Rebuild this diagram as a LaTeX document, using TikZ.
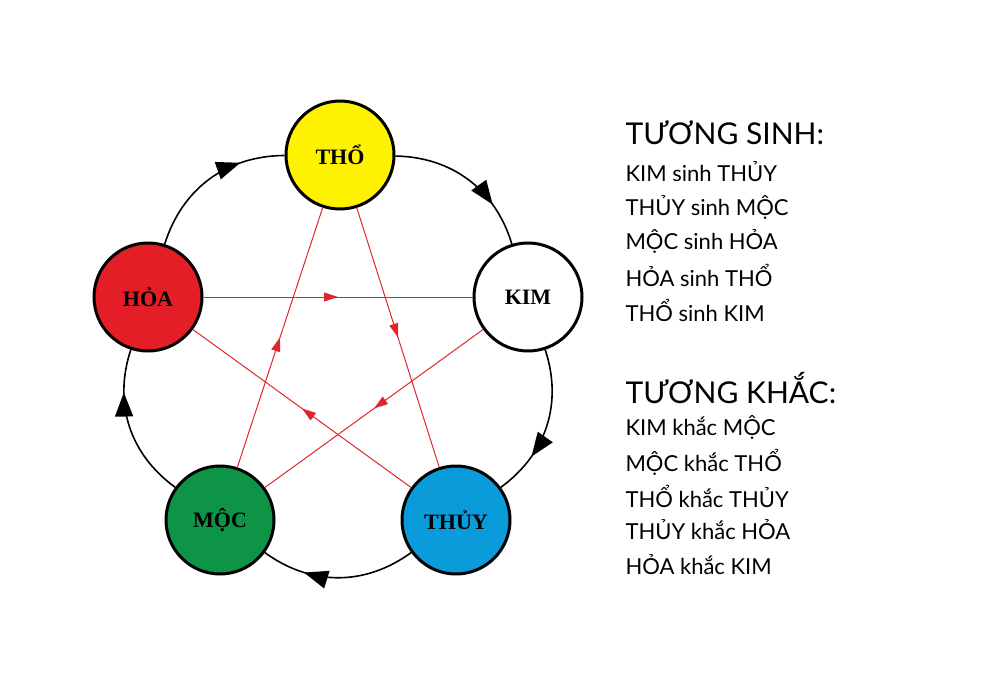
\documentclass[tikz,border=0pt]{standalone}
\usepackage{fontspec}
\setmainfont{Liberation Serif}
\newfontfamily\listfont{Lato}
\usetikzlibrary{arrows.meta,decorations.markings}
\definecolor{cTho}{HTML}{FFF200}
\definecolor{cHoa}{HTML}{E41E26}
\definecolor{cMoc}{HTML}{0E9447}
\definecolor{cThuy}{HTML}{0A9BDB}
\definecolor{cRed}{HTML}{E0262B}
\tikzset{
  elem/.style={circle,draw=black,line width=3pt,minimum size=108pt,inner sep=0pt,font=\bfseries\fontsize{22}{24}\selectfont},
  sinh/.style={line width=1.6pt,bend left=36,postaction={decorate},
    decoration={markings,mark=at position 0.72 with {\arrow{Triangle[length=24pt,width=18pt]}}}},
  khac/.style={cRed,line width=1pt,postaction={decorate},
    decoration={markings,mark=at position 0.5 with {\arrow{Triangle[length=14pt,width=9pt]}}}},
  head/.style={anchor=west,font=\listfont\fontsize{30}{32}\selectfont},
  item/.style={anchor=west,font=\listfont\fontsize{22}{24}\selectfont}
}
\begin{document}
\begin{tikzpicture}[x=1pt,y=-1pt]
  \useasboundingbox (0,0) rectangle (1000,700);
  \node (tho) at (340,155) [elem,fill=cTho]{THỔ};
  \node (kim) at (528,297) [elem,fill=white]{KIM};
  \node (thuy) at (456,520) [elem,fill=cThuy]{THỦY};
  \node (moc) at (220,520) [elem,fill=cMoc]{MỘC};
  \node (hoa) at (148,297) [elem,fill=cHoa]{HỎA};

  % tuong sinh
  \draw [sinh](tho) to (kim);
  \draw [sinh](kim) to (thuy);
  \draw [sinh](thuy) to (moc);
  \draw [sinh](moc) to (hoa);
  \draw [sinh](hoa) to (tho);

  % tuong khac
  \draw [khac](hoa) -- (kim);
  \draw [khac](tho) -- (thuy);
  \draw [khac](kim) -- (moc);
  \draw [khac](thuy) -- (hoa);
  \draw [khac](moc) -- (tho);

  \node (h1) at (622,133) [head]{TƯƠNG SINH:};
  \node (s1) at (622,172) [item]{KIM sinh THỦY};
  \node (s2) at (622,207) [item]{THỦY sinh MỘC};
  \node (s3) at (622,241) [item]{MỘC sinh HỎA};
  \node (s4) at (622,275) [item]{HỎA sinh THỔ};
  \node (s5) at (622,310) [item]{THỔ sinh KIM};
  \node (h2) at (622,388) [head]{TƯƠNG KHẮC:};
  \node (k1) at (622,427) [item]{KIM khắc MỘC};
  \node (k2) at (622,462) [item]{MỘC khắc THỔ};
  \node (k3) at (622,496) [item]{THỔ khắc THỦY};
  \node (k4) at (622,530) [item]{THỦY khắc HỎA};
  \node (k5) at (622,565) [item]{HỎA khắc KIM};
\end{tikzpicture}
\end{document}
